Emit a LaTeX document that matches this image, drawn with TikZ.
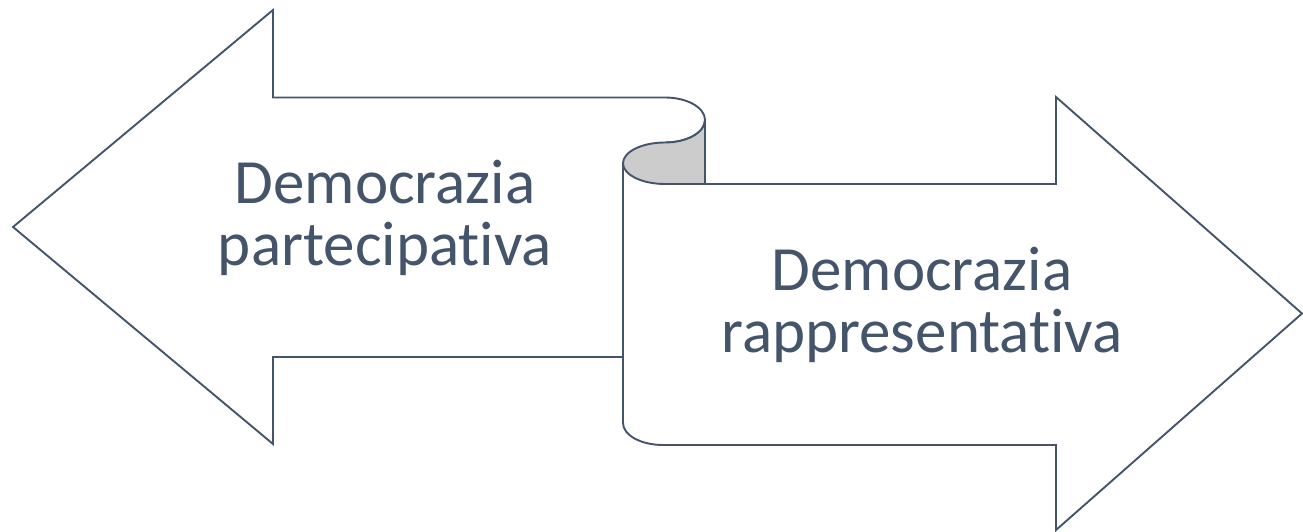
\documentclass[tikz,border=0pt]{standalone}
\usepackage{fontspec}
\setmainfont[Ligatures=NoCommon]{Carlito}
\definecolor{slate}{HTML}{44546A}
\definecolor{rollgray}{HTML}{CCCCCC}
\tikzset{
  outline/.style={draw=slate, line width=1.9pt, line join=miter},
  label/.style={text=slate, align=center, anchor=base, inner sep=0pt,
    font=\fontsize{63}{61.5}\selectfont}
}
\begin{document}
\begin{tikzpicture}[x=1pt,y=-1pt]
\useasboundingbox (0,0) rectangle (1303,532);
% left arrow
\draw[outline] (623,357) -- (273,357) -- (273,444) -- (13,227) -- (273,10) -- (273,97.5) -- (665,97.5)
  arc[start angle=-90,end angle=90,x radius=40,y radius=22.5];
% gray curl
\filldraw[outline, fill=rollgray] (705,120) arc[start angle=0,end angle=90,x radius=40,y radius=22.5]
  arc[start angle=-90,end angle=-270,x radius=42,y radius=20.75] -- (705,184) -- cycle;
% right arrow
\draw[outline] (623,163.25) -- (623,423) arc[start angle=180,end angle=90,x radius=40,y radius=22]
  -- (1056,445) -- (1056,530) -- (1302,313.5) -- (1056,97) -- (1056,184) -- (705,184);
\node[label] (partecipativa) at (385,265) {Democrazia\\partecipativa};
\node[label] (rappresentativa) at (922,352) {Democrazia\\rappresentativa};
\end{tikzpicture}
\end{document}
